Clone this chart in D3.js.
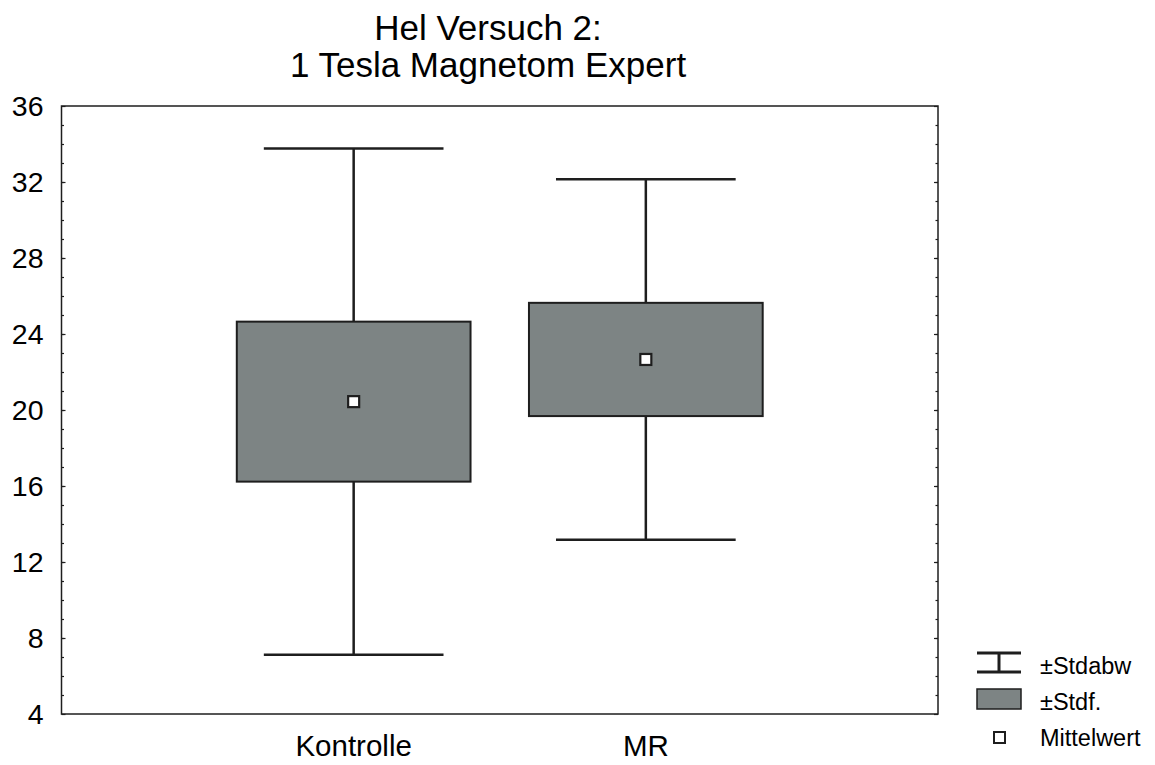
<!DOCTYPE html>
<html>
<head>
<meta charset="utf-8">
<script src="https://cdn.jsdelivr.net/npm/d3@7"></script>
<style>
  body { margin: 0; background: #fff; }
  text { font-family: "Liberation Sans", Arial, Helvetica, sans-serif; fill: #000; }
</style>
</head>
<body>
<div id="chart"></div>
<script>
// data
var titleLines = ["Hel Versuch 2:", "1 Tesla Magnetom Expert"];
var groups = ["Kontrolle", "MR"];
var means = [20.44, 22.66];   // Mittelwert
var stdErr = [4.21, 2.98];    // ±Stdf.
var stdDev = [13.32, 9.49];   // ±Stdabw
var yTicks = [4, 8, 12, 16, 20, 24, 28, 32, 36];
var legendLabels = ["\u00b1Stdabw", "\u00b1Stdf.", "Mittelwert"];

var width = 1155, height = 765;
var margin = { top: 106, right: 217, bottom: 51, left: 61.5 };
var boxFill = "#7d8484", ink = "#1e1e1e";

var svg = d3.select("#chart").append("svg")
  .attr("width", width)
  .attr("height", height);

var x = d3.scalePoint()
  .domain(groups)
  .range([margin.left, width - margin.right])
  .padding(1);

var y = d3.scaleLinear()
  .domain([4, 36])
  .range([height - margin.bottom, margin.top]);

var step = x.step();
var boxW = step * 0.8, capW = step * 0.615;

// title (sits a bit left of the plot centre, like the original)
svg.append("g").selectAll("text")
  .data(titleLines)
  .enter().append("text")
  .attr("x", 488)
  .attr("y", function (d, i) { return 40 + i * 37; })
  .attr("text-anchor", "middle")
  .attr("font-size", 35)
  .text(function (d) { return d; });

// frame
svg.append("rect")
  .attr("x", margin.left)
  .attr("y", margin.top)
  .attr("width", width - margin.right - margin.left)
  .attr("height", height - margin.bottom - margin.top)
  .attr("fill", "none")
  .attr("stroke", ink)
  .attr("stroke-width", 1.5);

// minor ticks every unit, left and right, pointing inward
var minor = d3.range(5, 36);
var leftAxis = d3.axisLeft(y).tickValues(minor).tickSize(-2.5).tickFormat("");
var rightAxis = d3.axisRight(y).tickValues(minor).tickSize(-2.5).tickFormat("");
svg.append("g").attr("transform", "translate(" + margin.left + ",0)").call(leftAxis);
svg.append("g").attr("transform", "translate(" + (width - margin.right) + ",0)").call(rightAxis);

// major ticks with labels
var yAxis = d3.axisLeft(y).tickValues(yTicks).tickSize(-4).tickPadding(18);
var gy = svg.append("g").attr("transform", "translate(" + margin.left + ",0)").call(yAxis);
gy.selectAll("text").attr("font-size", 28.5).attr("font-family", "Liberation Sans, Arial, sans-serif");
svg.append("g").attr("transform", "translate(" + (width - margin.right) + ",0)")
  .call(d3.axisRight(y).tickValues(yTicks).tickSize(-4).tickFormat(""));
svg.selectAll(".domain").remove();
svg.selectAll(".tick line").attr("stroke", ink).attr("stroke-width", 1.2);

// x labels
svg.append("g").selectAll("text")
  .data(groups)
  .enter().append("text")
  .attr("x", function (d) { return x(d); })
  .attr("y", 756)
  .attr("text-anchor", "middle")
  .attr("font-size", 29.5)
  .text(function (d) { return d; });

// whiskers (±Stdabw)
var g = svg.append("g");
groups.forEach(function (name, i) {
  var cx = x(name);
  var lo = means[i] - stdDev[i], hi = means[i] + stdDev[i];
  g.append("line")
    .attr("x1", cx).attr("x2", cx)
    .attr("y1", y(hi)).attr("y2", y(lo))
    .attr("stroke", ink).attr("stroke-width", 2.5);
  [lo, hi].forEach(function (v) {
    g.append("line")
      .attr("x1", cx - capW / 2).attr("x2", cx + capW / 2)
      .attr("y1", y(v)).attr("y2", y(v))
      .attr("stroke", ink).attr("stroke-width", 2.5);
  });
  // box (±Stdf.)
  g.append("rect")
    .attr("x", cx - boxW / 2)
    .attr("y", y(means[i] + stdErr[i]))
    .attr("width", boxW)
    .attr("height", y(means[i] - stdErr[i]) - y(means[i] + stdErr[i]))
    .attr("fill", boxFill)
    .attr("stroke", ink)
    .attr("stroke-width", 2);
  // mean marker
  g.append("rect")
    .attr("x", cx - 5.5).attr("y", y(means[i]) - 5.5)
    .attr("width", 11).attr("height", 11)
    .attr("fill", "#fff")
    .attr("stroke", ink)
    .attr("stroke-width", 2.2);
});

// legend
var lg = svg.append("g");
var lx = 977, lw = 44;
// errbar symbol
lg.append("line").attr("x1", lx).attr("x2", lx + lw).attr("y1", 653).attr("y2", 653)
  .attr("stroke", ink).attr("stroke-width", 3);
lg.append("line").attr("x1", lx).attr("x2", lx + lw).attr("y1", 672).attr("y2", 672)
  .attr("stroke", ink).attr("stroke-width", 3);
lg.append("line").attr("x1", lx + lw / 2).attr("x2", lx + lw / 2).attr("y1", 653).attr("y2", 672)
  .attr("stroke", ink).attr("stroke-width", 3);
// box symbol
lg.append("rect").attr("x", lx).attr("y", 689).attr("width", lw).attr("height", 20)
  .attr("fill", boxFill).attr("stroke", ink).attr("stroke-width", 1.5);
// mean symbol
lg.append("rect").attr("x", 994).attr("y", 732).attr("width", 11).attr("height", 11)
  .attr("fill", "#fff").attr("stroke", ink).attr("stroke-width", 2);

lg.selectAll("text.leg")
  .data(legendLabels)
  .enter().append("text")
  .attr("class", "leg")
  .attr("x", 1040)
  .attr("y", function (d, i) { return 674 + i * 36; })
  .attr("font-size", 23.5)
  .text(function (d) { return d; });
</script>
</body>
</html>
